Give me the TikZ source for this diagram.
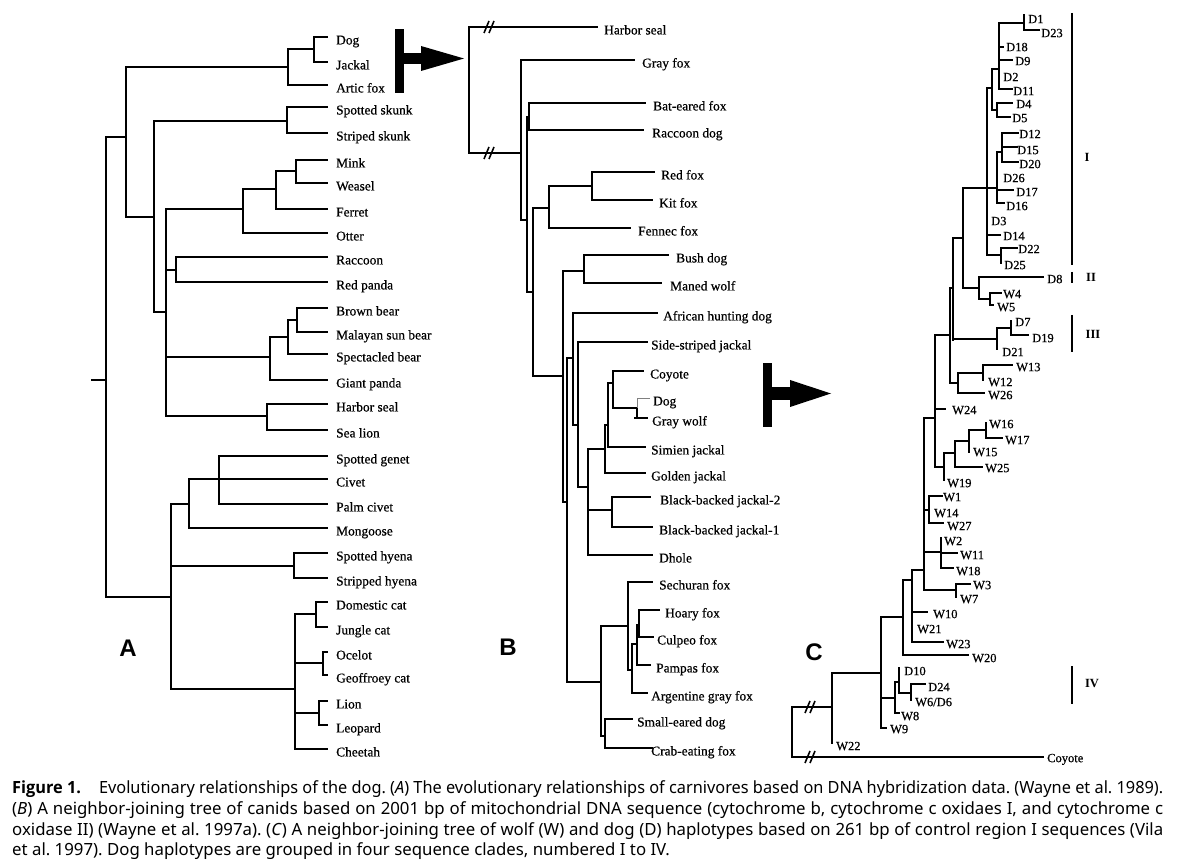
\documentclass[tikz,border=0pt]{standalone}
\usepackage{fontspec}
\usepackage{graphicx}
\setmainfont{Liberation Serif}
\newfontfamily\lblfont{Liberation Serif}[FakeBold=0.6]
\newfontfamily\capfont{Noto Sans}
\newfontfamily\capboldfont{Open Sans}
\newfontfamily\helv{Liberation Sans}
\newsavebox\capbox
\newcommand\jline[1]{\sbox\capbox{#1}\ifdim\wd\capbox>1151pt \resizebox{1151pt}{\height}{\usebox\capbox}\else\makebox[1151pt][s]{#1}\fi}
\begin{document}
\frenchspacing
\begin{tikzpicture}[x=1pt,y=-1pt,
  ta/.style={line width=2.2pt,line cap=rect},
  tb/.style={line width=2pt,line cap=rect},
  tc/.style={line width=1.7pt,line cap=rect},
  lblA/.style={anchor=west,inner sep=0pt,font=\lblfont\fontsize{13.4}{14}\selectfont,text height=8.9pt,text depth=0pt},
  lblC/.style={anchor=west,inner sep=0pt,font=\lblfont\fontsize{12.5}{13}\selectfont,text height=8.3pt,text depth=0pt},
  roman/.style={inner sep=0pt,font=\fontsize{12.5}{13}\selectfont\bfseries},
  big/.style={inner sep=0pt,font=\helv\bfseries\fontsize{24}{26}\selectfont},
  captxt/.style={anchor=west,inner sep=0pt,font=\capfont\fontsize{16.8}{20}\selectfont,text height=12pt,text depth=0pt},
  slash/.style={line width=1.6pt}]
\fill[white] (0,0) rectangle (1192,866);
\useasboundingbox (0,0) rectangle (1192,866);

% ---------------- Tree A ----------------
\foreach \xs/\y/\t in {314/37/Dog, 314/62/Jackal, 288/85/Artic fox, 287/107/Spotted skunk, 287/133/Striped skunk, 296/160/Mink, 296/183/Weasel, 276/209/Ferret, 243/233/Otter, 176/257/Raccoon, 176/282/Red panda, 297/308/Brown bear, 297/332/Malayan sun bear, 288/354/Spectacled bear, 270/380/Giant panda, 267/404/Harbor seal, 267/430/Sea lion, 219/456/Spotted genet, 189/479/Civet, 219/504/Palm civet, 189/528/Mongoose, 294/553/Spotted hyena, 294/578/Stripped hyena, 316/602/Domestic cat, 316/627/Jungle cat, 323/652/Ocelot, 323/675/Geoffroey cat, 319/701/Lion, 319/725/Leopard, 295/749/Cheetah}{
  \draw[ta] (\xs,\y) -- (327,\y);
  \node[lblA] (a\y) at (336,\y+3) {\t};
}
\draw[ta] (314,37)--(314,62) (288,49)--(314,49)
 (288,49)--(288,85) (126,67)--(288,67)
 (287,107)--(287,133) (154,121)--(287,121)
 (296,160)--(296,183) (276,171)--(296,171)
 (276,171)--(276,209) (243,189)--(276,189)
 (243,189)--(243,233) (166,209)--(243,209)
 (176,257)--(176,282) (166,270)--(176,270)
 (297,308)--(297,332) (288,320)--(297,320)
 (288,320)--(288,354) (270,337)--(288,337)
 (270,337)--(270,380) (166,357)--(270,357)
 (267,404)--(267,430) (166,416)--(267,416)
 (166,209)--(166,416) (154,312)--(166,312)
 (154,121)--(154,312) (126,217)--(154,217)
 (126,67)--(126,217) (106,137)--(126,137)
 (219,456)--(219,504)
 (189,479)--(189,528) (171,504)--(189,504)
 (294,553)--(294,578) (171,566)--(294,566)
 (316,602)--(316,627) (295,614)--(316,614)
 (323,652)--(323,675) (295,663)--(323,663)
 (319,701)--(319,725) (295,713)--(319,713)
 (295,614)--(295,749) (171,689)--(295,689)
 (171,504)--(171,689) (106,597)--(171,597)
 (106,137)--(106,597) (92,380)--(106,380);
\node[big] (labA) at (128,648) {A};

% arrow A -> B
\fill (395,29) rectangle (404,93);
\fill (403,53) rectangle (423,64);
\fill (421,46) -- (464,58.5) -- (421,71) -- cycle;

% ---------------- Tree B ----------------
\foreach \xs/\xe/\y/\lx/\t in {469/597/27/604/Harbor seal, 521/634/60/642/Gray fox, 529/645/103/653/Bat-eared fox, 529/643/130/652/Raccoon dog, 592/654/172/661/Red fox, 592/652/200/659/Kit fox, 549/630/228/638/Fennec fox, 584/668/255/676/Bush dog, 584/661/283/670/Maned wolf, 573/657/313/663/African hunting dog, 578/647/342/651/Side-striped jackal, 613/643/371/650/Coyote, 635/647/418/652/Gray wolf, 608/645/447/651/Simien jackal, 605/645/473/651/Golden jackal, 612/650/497/660/Black-backed jackal-2, 612/652/527/659/Black-backed jackal-1, 588/652/555/659/Dhole, 628/652/582/659/Sechuran fox, 639/659/610/665/Hoary fox, 639/653/637/657/Culpeo fox, 637/650/665/656/Pampas fox, 632/647/693/651/Argentine gray fox, 605/632/719/637/Small-eared dog, 605/652/748/651/Crab-eating fox}{
  \draw[tb] (\xs,\y) -- (\xe,\y);
  \node[lblA] (b\y) at (\lx,\y+3) {\t};
}
\draw[tb] (469,27)--(469,153)--(521,153)
 (521,60)--(521,220)--(527,220)
 (527,117)--(527,292)
 (527,117)--(529,117) (529,103)--(529,130)
 (527,292)--(533,292)
 (533,208)--(533,376)
 (533,208)--(549,208) (549,186)--(549,228) (549,186)--(592,186) (592,172)--(592,200)
 (533,376)--(563,376) (563,271)--(563,502) (563,271)--(584,271) (584,255)--(584,283)
 (563,502)--(567,502) (567,358)--(567,682)
 (567,358)--(573,358) (573,313)--(573,425)
 (573,425)--(578,425) (578,342)--(578,487)
 (578,487)--(588,487) (588,449)--(588,555)
 (588,449)--(605,449) (605,425)--(605,473)
 (605,425)--(608,425) (608,383)--(608,447)
 (608,383)--(613,383) (613,371)--(613,408)
 (613,408)--(637,408) (637,408)--(637,418)
 (588,510)--(612,510) (612,497)--(612,527)
 (567,682)--(601,682) (601,626)--(601,736)
 (601,626)--(628,626) (628,582)--(628,670)
 (628,670)--(632,670) (632,644)--(632,693)
 (632,644)--(637,644) (637,625)--(637,665) (637,625)--(639,625) (639,610)--(639,637)
 (601,736)--(605,736) (605,719)--(605,748);
\draw[gray,line width=0.8pt] (637,408)--(637,398)--(650,398);
\node[lblA] (bdog) at (653,401) {Dog};
% break marks
\draw[slash] (484,33)--(489,21) (489,33)--(494,21);
\draw[slash] (484,159)--(489,147) (489,159)--(494,147);
\node[big] (labB) at (508,647) {B};

% arrow B -> C
\fill (763,363) rectangle (772,427);
\fill (771,387) rectangle (792,400);
\fill (790,380) -- (831,393.5) -- (790,407) -- cycle;

% ---------------- Tree C ----------------
\draw[tc] (792,707)--(832,707) (792,707)--(792,757)--(1043,757)
 (832,673)--(832,743)
 (832,673)--(881,673) (881,617)--(881,728)--(886,728)
 (881,698)--(895,698) (895,682)--(895,713)--(899,713)
 (895,682)--(899,682) (899,668)--(899,693)--(911,693) (911,684)--(911,700) (911,684)--(925,684)
 (881,617)--(903,617) (903,580)--(903,655)--(968,655)
 (903,580)--(912,580) (912,570)--(912,642)--(943,642) (912,612)--(927,612)
 (912,570)--(924,570) (924,418)--(924,590)--(956,590)
 (956,584)--(956,597) (956,584)--(970,584)
 (924,510)--(929,510) (929,496)--(929,523) (929,496)--(942,496) (929,523)--(943,523)
 (924,552)--(941,552) (941,538)--(941,568)--(953,568) (941,553)--(957,553)
 (924,418)--(935,418) (935,335)--(935,467)
 (935,409)--(945,409)
 (935,467)--(944,467) (944,453)--(944,480)
 (944,453)--(955,453) (955,441)--(955,467)--(982,467)
 (955,441)--(969,441) (969,430)--(969,452)
 (969,430)--(986,430) (986,423)--(986,438)--(1002,438)
 (935,335)--(950,335) (950,288)--(950,383)
 (950,383)--(958,383) (958,373)--(958,393)--(984,393)
 (958,373)--(983,373) (983,365)--(983,380) (983,365)--(1012,365)
 (950,288)--(953,288) (953,238)--(953,340)
 (953,339)--(997,339) (997,328)--(997,349) (997,328)--(1011,328) (1011,321)--(1011,335)--(1028,335)
 (953,238)--(963,238) (963,188)--(963,288)--(979,288)
 (979,277)--(979,299) (979,277)--(1043,277) (979,299)--(990,299) (990,293)--(990,305)
 (990,293)--(1001,293) (990,305)--(993,305)
 (963,188)--(997,188)
 (987,88)--(987,255)
 (987,88)--(992,88) (992,69)--(992,110)
 (992,69)--(999,69) (992,110)--(997,110) (997,103)--(997,117)
 (997,103)--(1012,103) (997,117)--(1010,117)
 (999,23)--(999,89) (999,23)--(1024,23) (1024,15)--(1024,30)--(1039,30)
 (999,47)--(1003,47) (999,60)--(1012,60) (999,89)--(1012,89)
 (997,152)--(997,203) (997,152)--(1002,152) (1002,133)--(1002,162)
 (1002,133)--(1018,133) (1002,147)--(1017,147) (1002,162)--(1018,162)
 (997,190)--(1013,190) (997,203)--(1004,203)
 (987,235)--(1000,235)
 (987,255)--(1001,255) (1001,248)--(1001,263) (1001,248)--(1017,248);
\draw[slash] (805,713)--(810,701) (810,713)--(815,701);
\draw[slash] (805,763)--(810,751) (810,763)--(815,751);
\foreach \lx/\y/\t [count=\i] in {1028/19/D1, 1041/33/D23, 1006/47/D18, 1015/61/D9, 1003/77/D2, 1013/91/D11, 1016/104/D4, 1012/118/D5, 1019/134/D12, 1017/150/D15, 1019/164/D20, 1003/178/D26, 1016/192/D17, 1006/206/D16, 991/221/D3, 1003/236/D14, 1018/249/D22, 1004/265/D25, 1047/279/D8, 1003/294/W4, 997/307/W5, 1015/322/D7, 1032/338/D19, 1002/352/D21, 1016/367/W13, 988/382/W12, 988/395/W26, 952/410/W24, 989/424/W16, 1005/440/W17, 973/452/W15, 985/468/W25, 947/483/W19, 943/497/W1, 934/513/W14, 947/526/W27, 944/541/W2, 960/555/W11, 956/571/W18, 973/585/W3, 960/599/W7, 933/614/W10, 917/629/W21, 946/644/W23, 972/658/W20, 904/671/D10, 928/687/D24, 915/702/{W6/D6}, 901/716/W8, 890/729/W9, 836/746/W22, 1047/758/Coyote}{
  \node[lblC] (c\i) at (\lx,\y) {\t};
}
\draw[line width=2pt] (1072,13)--(1072,265) (1072,272)--(1072,283) (1072,315)--(1072,352) (1072,666)--(1072,704);
\node[roman] (rI) at (1087,157) {I};
\node[roman] (rII) at (1091,277) {II};
\node[roman] (rIII) at (1093,334) {III};
\node[roman] (rIV) at (1092,684) {IV};
\node[big] (labC) at (814,652) {C};

% ---------------- Caption ----------------
\node[captxt] (cap1) at (12,787) {\jline{{\capboldfont\bfseries Figure 1.}\hspace{1.1em}Evolutionary relationships of the dog. (\textit{A}) The evolutionary relationships of carnivores based on DNA hybridization data. (Wayne et al. 1989).}};
\node[captxt] (cap2) at (12,808) {\jline{(\textit{B}) A neighbor-joining tree of canids based on 2001 bp of mitochondrial DNA sequence (cytochrome b, cytochrome c oxidaes I, and cytochrome c}};
\node[captxt] (cap3) at (12,829) {\jline{oxidase II) (Wayne et al. 1997a). (\textit{C}) A neighbor-joining tree of wolf (W) and dog (D) haplotypes based on 261 bp of control region I sequences (Vila}};
\node[captxt] (cap4) at (12,849) {et al. 1997). Dog haplotypes are grouped in four sequence clades, numbered I to IV.};
\end{tikzpicture}
\end{document}
